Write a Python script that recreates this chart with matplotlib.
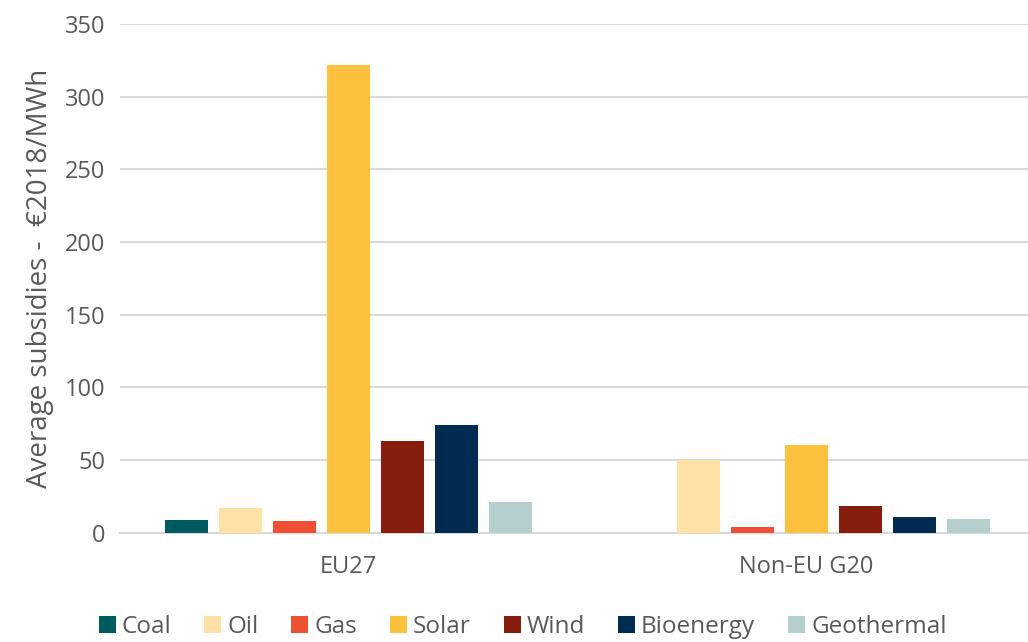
import numpy as np
import matplotlib
matplotlib.use("Agg")
import matplotlib.pyplot as plt

regions = ["EU27", "Non-EU G20"]
sources = ["Coal", "Oil", "Gas", "Solar", "Wind", "Bioenergy", "Geothermal"]
eu27 = [9, 17, 8.5, 322, 63, 74, 21]
non_eu_g20 = [0, 50, 4, 60.7, 18.4, 10.8, 9.6]
colors = ["#005B5F", "#FDE1A5", "#EF4F33", "#FDC13E", "#871E0D", "#002C52", "#B4CFCE"]

plt.rcParams['font.family'] = ['Open Sans', 'DejaVu Sans']
grey = "#595959"

fig = plt.figure(figsize=(10.28, 6.42), dpi=100)
ax = fig.add_axes([0.1163, 0.170, 0.891, 0.7926])

x = np.arange(len(regions))
pitch = 0.118
width = 0.094
values = np.array([eu27, non_eu_g20])
for i, src in enumerate(sources):
    offs = (i - (len(sources) - 1) / 2) * pitch
    ax.bar(x + offs, values[:, i], width=width, color=colors[i], label=src, zorder=3)

ax.set_xlim(-0.5, 1.5)
ax.set_ylim(0, 350)
ax.set_yticks(np.arange(0, 351, 50))
ax.set_xticks(x)
ax.set_xticklabels(regions)
ax.grid(axis='y', color="#D9D9D9", linewidth=1.5, zorder=0)
for s in ["top", "right", "left"]:
    ax.spines[s].set_visible(False)
ax.spines["bottom"].set_color("#D9D9D9")
ax.spines["bottom"].set_linewidth(1.5)
ax.tick_params(axis='both', length=0, labelsize=17, colors=grey, pad=10)
ax.tick_params(axis='x', pad=16)
ax.set_ylabel("Average subsidies -  €2018/MWh", fontsize=20, color=grey, labelpad=8)

ax.legend(loc='center', bbox_to_anchor=(0.44, -0.185), ncol=7, frameon=False,
          fontsize=17.5, labelcolor=grey, handlelength=0.7, handleheight=0.7,
          handletextpad=0.25, columnspacing=1.35)

fig.savefig("out.png", dpi=100)
